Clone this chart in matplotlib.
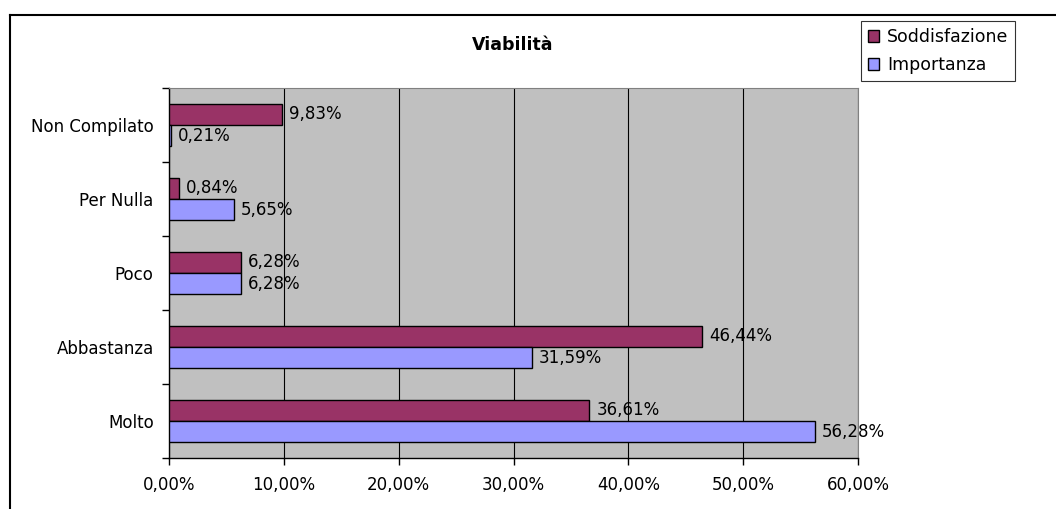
import matplotlib
matplotlib.use("Agg")
import matplotlib.pyplot as plt
import numpy as np
from matplotlib.lines import Line2D

plt.rcParams['font.family'] = ['DejaVu Sans']

categories = ["Molto", "Abbastanza", "Poco", "Per Nulla", "Non Compilato"]
soddisfazione = [36.61, 46.44, 6.28, 0.84, 9.83]
importanza = [56.28, 31.59, 6.28, 5.65, 0.21]
series_names = ["Soddisfazione", "Importanza"]
colors = ["#993366", "#9999FF"]
xticks = [0, 10, 20, 30, 40, 50, 60]

FS = 12

fig = plt.figure(figsize=(10.56, 5.09), dpi=100)
ax = fig.add_axes([169/1056, 1-458/509, (858-169)/1056, (458-88)/509])
ax.set_facecolor("#C0C0C0")

y = np.arange(len(categories))
h = 0.284
b1 = ax.barh(y + h/2, soddisfazione, height=h, color=colors[0], edgecolor="black", linewidth=1.0, label=series_names[0], zorder=3)
b2 = ax.barh(y - h/2, importanza, height=h, color=colors[1], edgecolor="black", linewidth=1.0, label=series_names[1], zorder=3)

def fmt(v):
    return ("%.2f" % v).replace(".", ",") + "%"

for bars, vals in ((b1, soddisfazione), (b2, importanza)):
    for rect, v in zip(bars, vals):
        ax.annotate(fmt(v), (v, rect.get_y() + rect.get_height()/2), xytext=(5, 0),
                    textcoords="offset points", va="center", ha="left", fontsize=FS, zorder=4)

ax.set_xlim(0, 60)
ax.set_ylim(-0.5, len(categories) - 0.5)
ax.set_xticks(xticks)
ax.set_xticklabels([("%.2f" % t).replace(".", ",") + "%" for t in xticks], fontsize=FS)
ax.set_yticks(y)
ax.set_yticklabels(categories, fontsize=FS)
ax.tick_params(axis="y", which="major", length=0, pad=11)
ax.set_yticks(np.arange(len(categories) + 1) - 0.5, minor=True)
ax.tick_params(axis="y", which="minor", length=5, width=1, direction="out")
ax.tick_params(axis="x", which="major", length=5, width=1, direction="out", pad=8)
ax.xaxis.grid(True, color="black", linewidth=0.8, zorder=1)
ax.set_axisbelow(True)
for s in ("top", "right"):
    ax.spines[s].set_color("#808080")
for s in ("left", "bottom"):
    ax.spines[s].set_color("black")
    ax.spines[s].set_linewidth(1.0)

fig.text(513/1056, 1-45/509, "Viabilità", ha="center", va="center", fontsize=12.5, fontweight="bold")

handles = [plt.Rectangle((0, 0), 1, 1, facecolor=c, edgecolor="black", linewidth=1.0) for c in colors]
leg = fig.legend(handles, series_names, loc="upper left", bbox_to_anchor=(861/1056, 1-21/509),
                 frameon=True, fancybox=False, fontsize=12.5, handlelength=0.65, handleheight=0.65,
                 handletextpad=0.45, borderpad=0.4, labelspacing=0.6, borderaxespad=0)
leg.get_frame().set_edgecolor("black")
leg.get_frame().set_linewidth(0.8)

fig.add_artist(Line2D([10/1056, 10/1056], [0, 1-15/509], transform=fig.transFigure, color="black", linewidth=1.5))
fig.add_artist(Line2D([10/1056, 1], [1-15/509, 1-15/509], transform=fig.transFigure, color="black", linewidth=1.5))

fig.savefig("out.png", dpi=100)
